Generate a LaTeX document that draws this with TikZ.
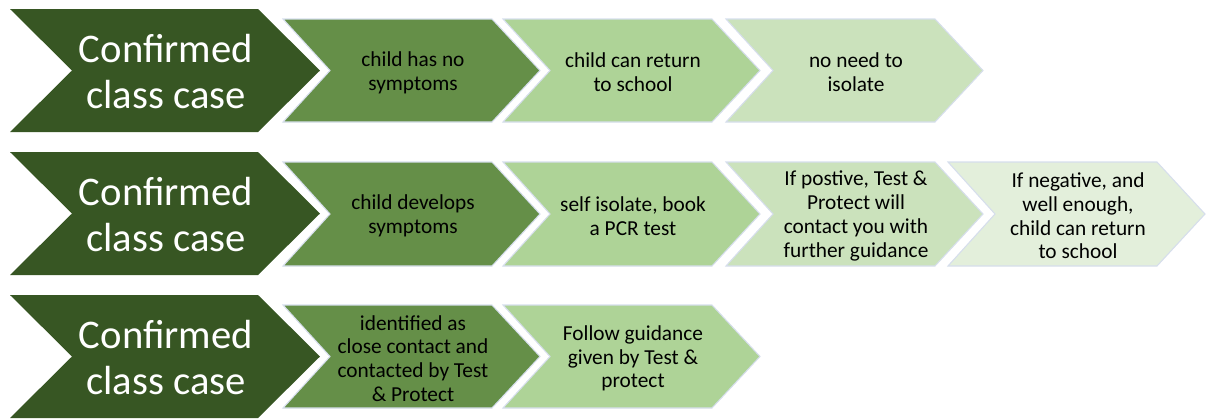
\documentclass[tikz,border=0pt]{standalone}
\usepackage{fontspec}
\setmainfont{Carlito}
\definecolor{g1}{HTML}{375623}
\definecolor{g2}{HTML}{658F48}
\definecolor{g3}{HTML}{AED397}
\definecolor{g4}{HTML}{CBE2BC}
\definecolor{g5}{HTML}{E3EFDB}
\definecolor{edge}{HTML}{D6DEEC}
\newcommand{\chevbig}[4]{% top, bottom, name, colour
  \fill[#4] (10,#1) -- (258,#1) -- (320,{(#1+#2)/2}) -- (258,#2) -- (10,#2) -- (72,{(#1+#2)/2}) -- cycle;
  \node[bigtxt] (#3) at (166,{(#1+#2)/2+1}) {Confirmed\\class case};}
\newcommand{\chevsmall}[6]{% left, top, bottom, colour, name, text
  \filldraw[#4, draw=edge, line width=0.8pt] (#1,#2) -- ({#1+209},#2) -- ({#1+257},{(#2+#3)/2}) -- ({#1+209},#3) -- (#1,#3) -- ({#1+47},{(#2+#3)/2}) -- cycle;
  \node[smalltxt] (#5) at ({#1+130},{(#2+#3)/2+2}) {#6};}
\begin{document}
\begin{tikzpicture}[x=0.75pt,y=-0.75pt,
  bigtxt/.style={text=white,font=\fontsize{30.5}{34.5}\selectfont,align=center,inner sep=0pt},
  smalltxt/.style={text=black,font=\fontsize{16}{17.8}\selectfont,align=center,inner sep=0pt}]
\useasboundingbox (0,0) rectangle (1208,419);
% row 1
\chevbig{9}{132}{c1}{g1}
\chevsmall{283}{19}{122}{g2}{a1}{child has no\\symptoms}
\chevsmall{503}{19}{122}{g3}{a2}{child can return\\to school}
\chevsmall{726}{19}{122}{g4}{a3}{no need to\\isolate}
% row 2
\chevbig{152}{275}{c2}{g1}
\chevsmall{283}{162}{266}{g2}{b1}{child develops\\symptoms}
\chevsmall{503}{162}{266}{g3}{b2}{self isolate, book\\a PCR test}
\chevsmall{726}{162}{266}{g4}{b3}{If postive, Test \&\\Protect will\\contact you with\\further guidance}
\chevsmall{948}{162}{266}{g5}{b4}{If negative, and\\well enough,\\child can return\\to school}
% row 3
\chevbig{295}{418}{c3}{g1}
\chevsmall{283}{305}{408}{g2}{d1}{identified as\\close contact and\\contacted by Test\\\& Protect}
\chevsmall{503}{305}{408}{g3}{d2}{Follow guidance\\given by Test \&\\protect}
\end{tikzpicture}
\end{document}
